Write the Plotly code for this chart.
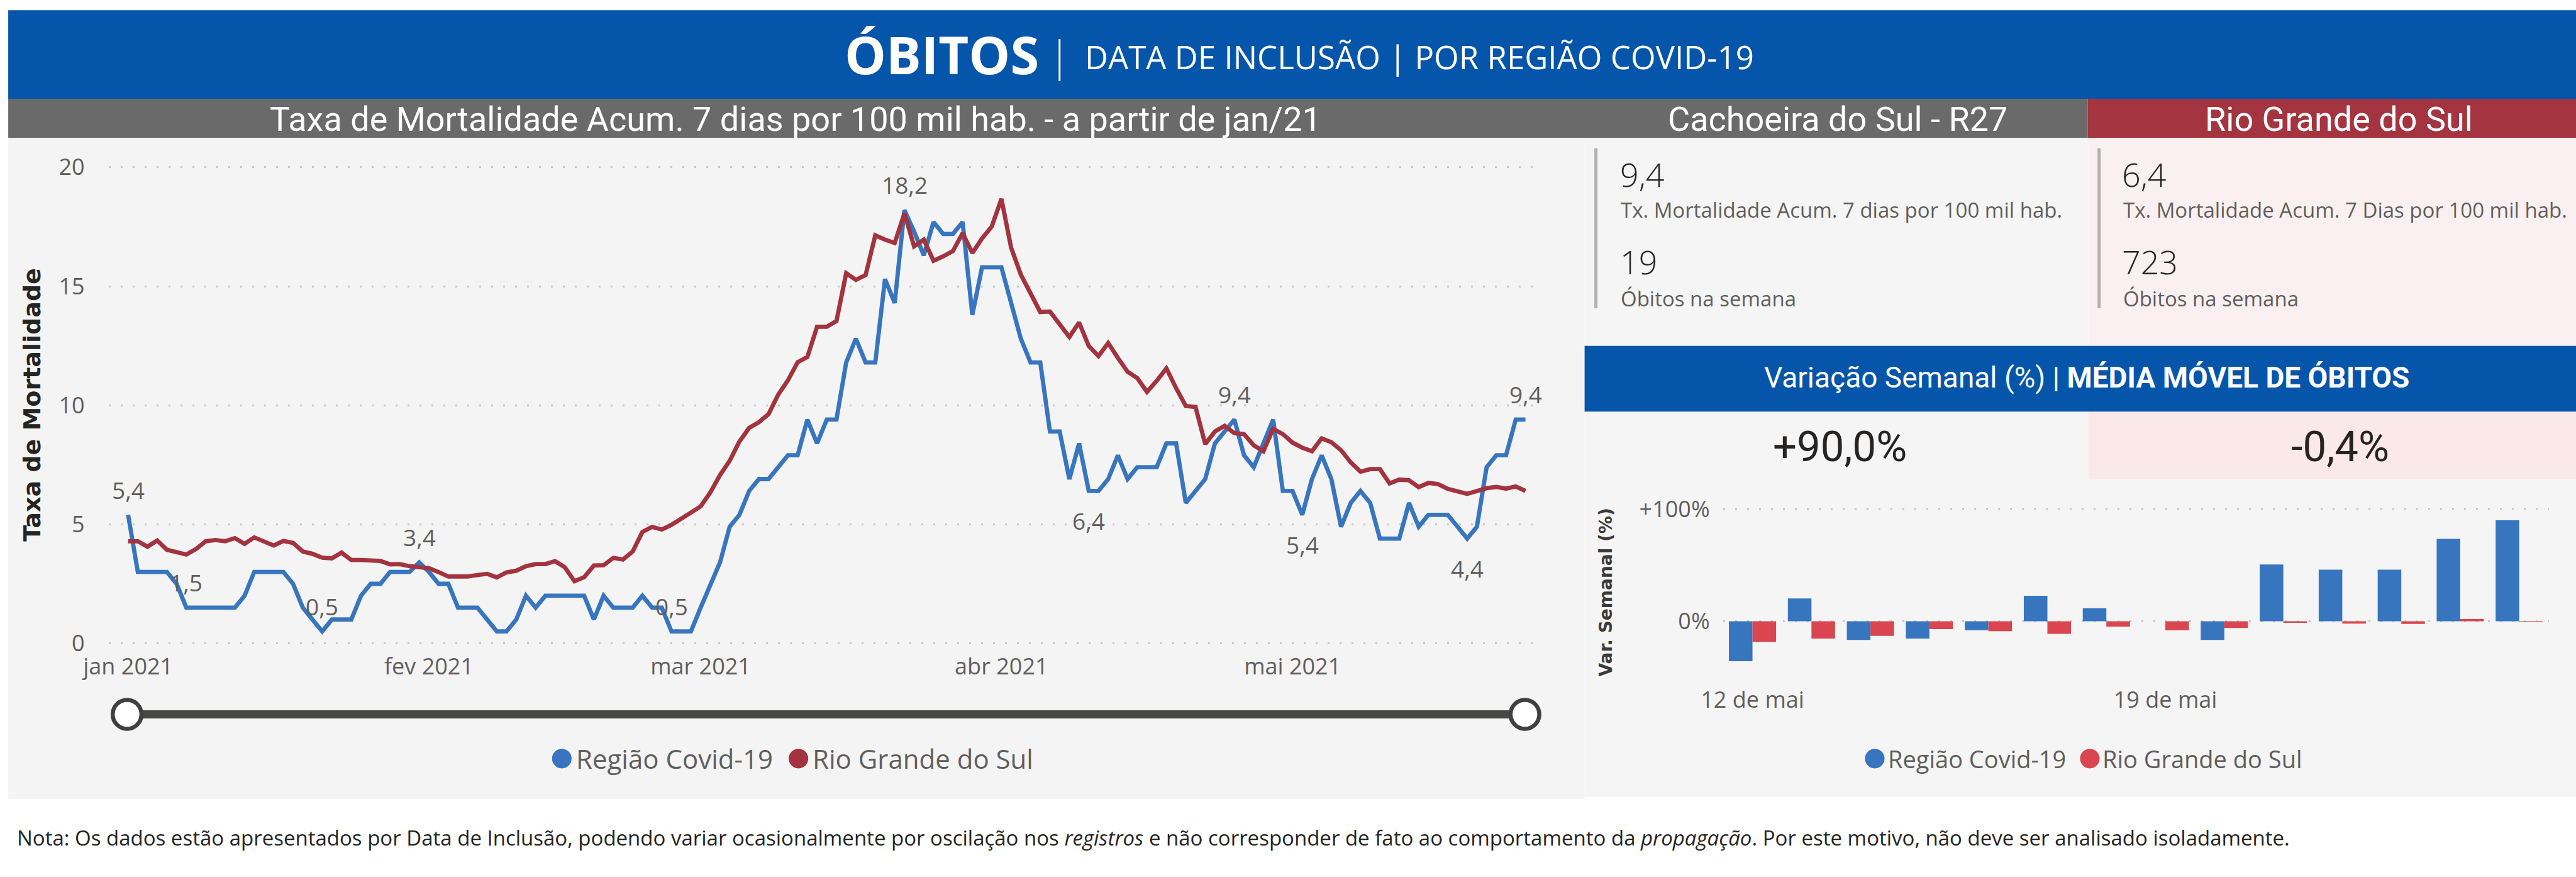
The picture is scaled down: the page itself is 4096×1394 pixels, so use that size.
import plotly.graph_objects as go
import pandas as pd

# ------------------------------------------------------------------ data
start_date = "2021-01-01"
regiao_taxa = [
    5.4, 3.0, 3.0, 3.0, 3.0, 2.5, 1.5, 1.5, 1.5, 1.5,
    1.5, 1.5, 2.0, 3.0, 3.0, 3.0, 3.0, 2.5, 1.5, 1.0,
    0.5, 1.0, 1.0, 1.0, 2.0, 2.5, 2.5, 3.0, 3.0, 3.0,
    3.4, 3.0, 2.5, 2.5, 1.5, 1.5, 1.5, 1.0, 0.5, 0.5,
    1.0, 2.0, 1.5, 2.0, 2.0, 2.0, 2.0, 2.0, 1.0, 2.0,
    1.5, 1.5, 1.5, 2.0, 1.5, 1.5, 0.5, 0.5, 0.5, 1.5,
    2.5, 3.4, 4.9, 5.4, 6.4, 6.9, 6.9, 7.4, 7.9, 7.9,
    9.4, 8.4, 9.4, 9.4, 11.8, 12.8, 11.8, 11.8, 15.3, 14.3,
    18.2, 17.3, 16.3, 17.7, 17.2, 17.2, 17.7, 13.8, 15.8, 15.8,
    15.8, 14.3, 12.8, 11.8, 11.8, 8.9, 8.9, 6.9, 8.4, 6.4,
    6.4, 6.9, 7.9, 6.9, 7.4, 7.4, 7.4, 8.4, 8.4, 5.9,
    6.4, 6.9, 8.4, 8.9, 9.4, 7.9, 7.4, 8.4, 9.4, 6.4,
    6.4, 5.4, 6.9, 7.9, 6.9, 4.9, 5.9, 6.4, 5.9, 4.4,
    4.4, 4.4, 5.9, 4.9, 5.4, 5.4, 5.4, 4.9, 4.4, 4.9,
    7.4, 7.9, 7.9, 9.4, 9.4,
]
rs_taxa = [
    4.29, 4.29, 4.06, 4.32, 3.93, 3.83, 3.73, 3.96, 4.29, 4.34,
    4.29, 4.42, 4.18, 4.45, 4.29, 4.11, 4.30, 4.22, 3.86, 3.76,
    3.60, 3.57, 3.81, 3.50, 3.50, 3.49, 3.46, 3.32, 3.33, 3.24,
    3.21, 3.16, 2.99, 2.81, 2.81, 2.81, 2.87, 2.92, 2.77, 2.98,
    3.05, 3.24, 3.33, 3.33, 3.45, 3.20, 2.61, 2.78, 3.27, 3.28,
    3.59, 3.52, 3.86, 4.68, 4.89, 4.78, 4.98, 5.25, 5.53, 5.75,
    6.34, 7.07, 7.67, 8.48, 9.05, 9.29, 9.63, 10.45, 11.05, 11.81,
    12.03, 13.30, 13.30, 13.54, 15.55, 15.27, 15.47, 17.14, 16.96, 16.82,
    18.06, 16.68, 16.96, 16.07, 16.26, 16.48, 17.23, 16.40, 17.01, 17.51,
    18.67, 16.62, 15.49, 14.75, 13.92, 13.94, 13.39, 12.87, 13.48, 12.49,
    12.07, 12.62, 11.99, 11.41, 11.14, 10.56, 11.03, 11.55, 10.72, 9.97,
    9.93, 8.37, 8.90, 9.14, 8.83, 8.79, 8.32, 8.07, 9.01, 8.79,
    8.43, 8.22, 8.07, 8.61, 8.45, 8.11, 7.60, 7.21, 7.32, 7.32,
    6.72, 6.88, 6.85, 6.56, 6.74, 6.69, 6.49, 6.39, 6.28, 6.40,
    6.52, 6.57, 6.50, 6.59, 6.40,
]
month_ticks = ["2021-01-01", "2021-02-01", "2021-03-01", "2021-04-01", "2021-05-01"]
month_labels = ["jan 2021", "fev 2021", "mar 2021", "abr 2021", "mai 2021"]
taxa_ticks = [0, 5, 10, 15, 20]

label_idx = [0, 6, 20, 30, 56, 80, 99, 114, 121, 138, 144]
label_side = ["up", "up", "up", "up", "up", "up", "down", "up", "down", "down", "up"]

var_start = "2021-05-12"
var_regiao = [-35.6, 20.3, -16.7, -15.4, -8.0, 22.6, 11.6, 0.0, -16.7, 50.6, 46.0, 46.0, 73.4, 90.0]
var_rs = [-18.4, -15.4, -13.1, -7.0, -8.9, -11.2, -4.8, -8.0, -6.1, -1.5, -2.1, -2.5, 1.9, -0.4]
var_ticks = ["2021-05-12", "2021-05-19"]
var_tick_labels = ["12 de mai", "19 de mai"]
var_y_ticks = [0, 100]
var_y_labels = ["0%", "+100%"]

kpi_regiao_taxa = 9.4
kpi_regiao_obitos = 19
kpi_rs_taxa = 6.4
kpi_rs_obitos = 723
var_regiao_pct = 90.0
var_rs_pct = -0.4

series_names = ["Região Covid-19", "Rio Grande do Sul"]

# ------------------------------------------------------------------ helpers
W, H = 5007.0, 1704.0          # reference pixel space
BLUE = "#3875BF"
RED_LINE = "#A3333E"
RED_BAR = "#D9464F"
HEADER_BLUE = "#0555AA"
TXT_DARK = "#252423"
TXT_GRAY = "#605E5C"
GRID = "#C8C6C4"
FONT = "Open Sans"
COND = "Roboto"


def px(x):
    return x / W


def py(y):
    return 1 - y / H


def br(v):
    return f"{v:.1f}".replace(".", ",")


dates = pd.date_range(start_date, periods=len(regiao_taxa), freq="D")
var_dates = pd.date_range(var_start, periods=len(var_regiao), freq="D")

fig = go.Figure()

fig.add_trace(go.Scatter(x=dates, y=regiao_taxa, mode="lines", name=series_names[0],
                         line=dict(color=BLUE, width=6.8), showlegend=False,
                         xaxis="x", yaxis="y"))
fig.add_trace(go.Scatter(x=dates, y=rs_taxa, mode="lines", name=series_names[1],
                         line=dict(color=RED_LINE, width=6.8), showlegend=False,
                         xaxis="x", yaxis="y"))

fig.add_trace(go.Bar(x=var_dates, y=var_regiao, name=series_names[0], marker_color=BLUE,
                     marker_line_width=0, showlegend=False, xaxis="x2", yaxis="y2"))
fig.add_trace(go.Bar(x=var_dates, y=var_rs, name=series_names[1], marker_color=RED_BAR,
                     marker_line_width=0, showlegend=False, xaxis="x2", yaxis="y2"))

# ------------------------------------------------------------------ axes
px_per_day = 18.86
x_left = dates[0] - pd.Timedelta(days=(249 - 211) / px_per_day)
x_right = dates[-1] + pd.Timedelta(days=(2997 - 2965) / px_per_day)
unit = 46.25  # px per 1.0 of rate

tick_font = dict(family=FONT, size=36, color=TXT_GRAY)

fig.update_layout(
    template="none",
    xaxis=dict(domain=[px(211), px(2997)], range=[x_left, x_right], type="date",
               tickmode="array", tickvals=month_ticks, ticktext=month_labels,
               showgrid=False, zeroline=False, showline=False, ticks="",
               tickfont=tick_font, anchor="y", automargin=False),
    yaxis=dict(domain=[py(1265), py(300)], range=[-15 / unit, 20 + 25 / unit],
               tickmode="array", tickvals=taxa_ticks, ticktext=[str(t) for t in taxa_ticks],
               showgrid=True, gridcolor=GRID, gridwidth=3, griddash="3px,16px",
               zeroline=False, showline=False, ticks="", tickfont=tick_font,
               ticklabelstandoff=37, anchor="x", automargin=False),
    xaxis2=dict(domain=[px(3349), px(4954)],
                range=[var_dates[0] - pd.Timedelta(hours=12), var_dates[-1] + pd.Timedelta(hours=12)],
                type="date", tickmode="array", tickvals=var_ticks, ticktext=var_tick_labels,
                showgrid=False, zeroline=False, showline=False, ticks="",
                tickfont=tick_font, anchor="y2", automargin=False),
    yaxis2=dict(domain=[py(1330), py(960)], range=[-(1330 - 1207) / 2.18, (1207 - 960) / 2.18],
                tickmode="array", tickvals=var_y_ticks, ticktext=var_y_labels,
                showgrid=True, gridcolor=GRID, gridwidth=3, griddash="3px,16px",
                zeroline=False, showline=False, ticks="", tickfont=tick_font,
                ticklabelstandoff=20, anchor="x2", automargin=False),
    barmode="group", bargap=0.2, bargroupgap=0.0,
    width=4096, height=1394, autosize=False,
    margin=dict(l=0, r=0, t=0, b=0, pad=0, autoexpand=False),
    paper_bgcolor="white", plot_bgcolor="rgba(0,0,0,0)",
    font=dict(family=FONT, color=TXT_GRAY),
    showlegend=False,
)

# ------------------------------------------------------------------ background shapes
shapes = []


def rect(x0, y0, x1, y1, color):
    shapes.append(dict(type="rect", xref="paper", yref="paper", x0=px(x0), x1=px(x1),
                       y0=py(y1), y1=py(y0), fillcolor=color, line=dict(width=0), layer="below"))


rect(16, 20, 5007, 192, HEADER_BLUE)
rect(16, 192, 4058, 268, "#6A6A6A")
rect(4058, 192, 5007, 268, "#A4343F")
rect(16, 268, 3080, 1552, "#F4F4F4")
rect(3080, 268, 4059, 672, "#F5F5F5")
rect(4059, 268, 5007, 672, "#FBF0F1")
rect(3080, 672, 5007, 800, HEADER_BLUE)
rect(3080, 800, 4059, 931, "#F5F5F5")
rect(4059, 800, 5007, 931, "#FBE8E8")
rect(3080, 931, 5007, 1548, "#F5F5F5")
rect(3099, 288, 3105, 599, "#B3B0AD")
rect(4077, 288, 4083, 599, "#B3B0AD")

# slider
shapes.append(dict(type="line", xref="paper", yref="paper", x0=px(247), x1=px(2964),
                   y0=py(1388), y1=py(1388), line=dict(color="#474746", width=13), layer="above"))
for cx in (247, 2964):
    r = 28
    shapes.append(dict(type="circle", xref="paper", yref="paper", x0=px(cx - r), x1=px(cx + r),
                       y0=py(1388 + r), y1=py(1388 - r), fillcolor="white",
                       line=dict(color="#404040", width=6.5), layer="above"))


def legend_dot(cx, cy, color, r=19):
    shapes.append(dict(type="circle", xref="paper", yref="paper", x0=px(cx - r), x1=px(cx + r),
                       y0=py(cy + r), y1=py(cy - r), fillcolor=color, line=dict(width=0),
                       layer="above"))


legend_dot(1092, 1474, BLUE)
legend_dot(1552, 1474, RED_LINE)
legend_dot(3644, 1474, BLUE)
legend_dot(4062, 1474, RED_BAR)

fig.update_layout(shapes=shapes)

# ------------------------------------------------------------------ annotations
ann = []


def text(x, y, t, size, color, xanchor="center", family=FONT, angle=0, weight=None):
    f = dict(family=family, size=size, color=color)
    if weight:
        f["weight"] = weight
    ann.append(dict(xref="paper", yref="paper", x=px(x), y=py(y), text=t, showarrow=False,
                    xanchor=xanchor, yanchor="middle", font=f, textangle=angle))


# header
text(1639, 104, "<b>ÓBITOS</b>", 83, "white", xanchor="left")
text(2060, 106, "|", 66, "white", weight=300)
text(2106, 110, "DATA DE INCLUSÃO | POR REGIÃO COVID-19", 51, "white", xanchor="left")

# section titles
text(1546, 232, "Taxa de Mortalidade Acum. 7 dias por 100 mil hab. - a partir de jan/21", 54, "white", family=COND)
text(3572, 232, "Cachoeira do Sul - R27", 54, "white", family=COND)
text(4546, 232, "Rio Grande do Sul", 54, "white", family=COND)

# KPI cards
text(3146, 338, br(kpi_regiao_taxa), 52, TXT_DARK, xanchor="left", weight=300)
text(3148, 408, "Tx. Mortalidade Acum. 7 dias por 100 mil hab.", 33, TXT_GRAY, xanchor="left")
text(3146, 508, str(kpi_regiao_obitos), 52, TXT_DARK, xanchor="left", weight=300)
text(3148, 580, "Óbitos na semana", 33, TXT_GRAY, xanchor="left")
text(4122, 338, br(kpi_rs_taxa), 52, TXT_DARK, xanchor="left", weight=300)
text(4124, 408, "Tx. Mortalidade Acum. 7 Dias por 100 mil hab.", 33, TXT_GRAY, xanchor="left")
text(4122, 508, str(kpi_rs_obitos), 52, TXT_DARK, xanchor="left", weight=300)
text(4124, 580, "Óbitos na semana", 33, TXT_GRAY, xanchor="left")

# banner
text(4056, 734, "Variação Semanal (%) | <b>MÉDIA MÓVEL DE ÓBITOS</b>", 46, "white", family=COND)
text(3576, 868, ("+" if var_regiao_pct >= 0 else "") + br(var_regiao_pct) + "%", 67, TXT_DARK, family=COND)
text(4548, 868, ("+" if var_rs_pct >= 0 else "") + br(var_rs_pct) + "%", 67, TXT_DARK, family=COND)

# axis titles
text(62, 786, "<b>Taxa de Mortalidade</b>", 38, TXT_DARK, family="DejaVu Sans", angle=-90)
text(3122, 1151, "<b>Var. Semanal (%)</b>", 28, "#3B3A39", family="DejaVu Sans", angle=-90)

# legends
text(1117, 1474, series_names[0], 42, TXT_GRAY, xanchor="left")
text(1577, 1474, series_names[1], 42, TXT_GRAY, xanchor="left")
text(3667, 1474, series_names[0], 38, TXT_GRAY, xanchor="left")
text(4084, 1474, series_names[1], 38, TXT_GRAY, xanchor="left")

# note
text(30, 1627, "Nota: Os dados estão apresentados por Data de Inclusão, podendo variar ocasionalmente por "
               "oscilação nos <i>registros</i> e não corresponder de fato ao comportamento da "
               "<i>propagação</i>. Por este motivo, não deve ser analisado isoladamente.",
     33, TXT_DARK, xanchor="left")

# data labels on the regional series
for i, side in zip(label_idx, label_side):
    v = regiao_taxa[i]
    ann.append(dict(xref="x", yref="y", x=dates[i], y=v, text=br(v), showarrow=False,
                    xanchor="center", yanchor="middle", yshift=40 if side == "up" else -47,
                    font=dict(family=FONT, size=37, color=TXT_GRAY)))

fig.update_layout(annotations=ann)

fig.write_html("out.html", config={"displayModeBar": False},
               post_script="document.body.style.margin='0px';document.body.style.padding='0px';"
                           "document.body.style.overflow='hidden';")
